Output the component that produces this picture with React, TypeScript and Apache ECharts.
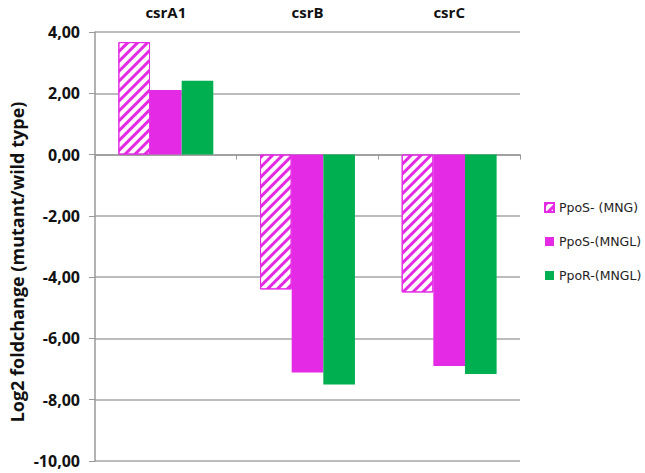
import React, { useEffect, useRef } from "react";
import * as echarts from "echarts";

const categories = ["csrA1", "csrB", "csrC"];
const seriesNames = ["PpoS- (MNG)", "PpoS-(MNGL)", "PpoR-(MNGL)"];
const ppoSMNG = [3.67, -4.4, -4.5];
const ppoSMNGL = [2.11, -7.11, -6.9];
const ppoRMNGL = [2.41, -7.5, -7.16];
const yTicks = { min: -10, max: 4, interval: 2 };
const yTitle = "Log2 foldchange (mutant/wild type)";

const MAGENTA = "#e42ae4";
const GREEN = "#00b050";

export default function App() {
  const ref = useRef<HTMLDivElement>(null);
  useEffect(() => {
    document.body.style.margin = "0";
    const chart = echarts.init(ref.current!, undefined, { renderer: "svg" });
    const font = "'Open Sans', 'DejaVu Sans', sans-serif";
    chart.setOption({
      animation: false,
      backgroundColor: "#ffffff",
      grid: { left: 95, right: 125, top: 32, bottom: 12, containLabel: false },
      legend: {
        orient: "vertical",
        left: 544,
        top: 201,
        padding: 0,
        width: 100,
        itemGap: 21,
        itemWidth: 9,
        itemHeight: 9,
        icon: "rect",
        textStyle: { fontFamily: "'DejaVu Sans', sans-serif", fontSize: 12.5, color: "#222" },
        data: seriesNames,
      },
      graphic: [
        {
          type: "text",
          x: 17,
          y: 262,
          rotation: Math.PI / 2,
          style: {
            text: yTitle,
            fontFamily: font,
            fontWeight: "bold",
            fontSize: 18,
            fill: "#111",
            textAlign: "center",
            textVerticalAlign: "middle",
          },
        },
      ],
      xAxis: [
        {
          type: "category",
          data: categories,
          position: "bottom",
          axisLine: { onZero: true, lineStyle: { color: "#999", width: 1.5 } },
          axisTick: { show: true, length: 5, lineStyle: { color: "#999" } },
          axisLabel: { show: false },
          splitLine: { show: false },
        },
        {
          type: "category",
          data: categories,
          position: "top",
          axisLine: { show: false },
          axisTick: { show: false },
          axisLabel: {
            show: true,
            margin: 13,
            fontFamily: font,
            fontWeight: "bold",
            fontSize: 15,
            color: "#111",
          },
        },
      ],
      yAxis: {
        type: "value",
        min: yTicks.min,
        max: yTicks.max,
        interval: yTicks.interval,
        axisLine: { show: true, lineStyle: { color: "#999", width: 1.5 } },
        axisTick: { show: true, length: 6, lineStyle: { color: "#999" } },
        axisLabel: {
          fontFamily: font,
          fontWeight: "bold",
          fontSize: 16,
          color: "#111",
          margin: 15,
          formatter: (v: number) => v.toFixed(2).replace(".", ","),
        },
        splitLine: { show: true, lineStyle: { color: "#a6a6a6", width: 1.5 } },
      },
      series: [
        {
          name: seriesNames[0],
          type: "bar",
          xAxisIndex: 0,
          data: ppoSMNG,
          barGap: "0%",
          barCategoryGap: "33%",
          itemStyle: {
            color: "#ffffff",
            borderColor: MAGENTA,
            borderWidth: 1,
            decal: {
              symbol: "rect",
              color: MAGENTA,
              dashArrayX: [1, 0],
              dashArrayY: [3, 4],
              rotation: -Math.PI / 4,
              symbolSize: 1,
            },
          },
        },
        {
          name: seriesNames[1],
          type: "bar",
          xAxisIndex: 0,
          data: ppoSMNGL,
          barGap: "0%",
          barCategoryGap: "33%",
          itemStyle: { color: MAGENTA },
        },
        {
          name: seriesNames[2],
          type: "bar",
          xAxisIndex: 0,
          data: ppoRMNGL,
          barGap: "0%",
          barCategoryGap: "33%",
          itemStyle: { color: GREEN },
        },
      ],
    });
    return () => chart.dispose();
  }, []);
  return <div ref={ref} style={{ width: 645, height: 473 }} />;
}
